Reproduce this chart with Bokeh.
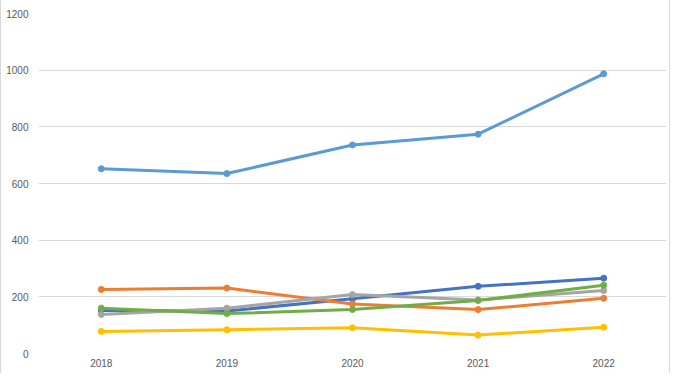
from bokeh.plotting import figure
from bokeh.models import FactorRange, Range1d
from bokeh.embed import file_html
from bokeh.resources import INLINE

years = ["2018", "2019", "2020", "2021", "2022"]
series_dark_blue = [152, 150, 193, 237, 266]
series_orange = [226, 231, 175, 155, 195]
series_gray = [138, 160, 208, 189, 222]
series_yellow = [78, 84, 91, 65, 93]
series_light_blue = [652, 635, 736, 774, 987]
series_green = [160, 141, 155, 187, 241]
y_ticks = [0, 200, 400, 600, 800, 1000, 1200]

series = [
    (series_dark_blue, "#4472C4"),
    (series_orange, "#ED7D31"),
    (series_gray, "#A5A5A5"),
    (series_yellow, "#FFC000"),
    (series_light_blue, "#5B9BD5"),
    (series_green, "#70AD47"),
]

p = figure(width=670, height=373, x_range=FactorRange(*years, range_padding=0),
           y_range=Range1d(0, 1200), output_backend="svg", toolbar_location=None,
           min_border_left=37, min_border_right=5, min_border_top=13, min_border_bottom=20)
p.outline_line_color = None
p.background_fill_color = "white"
p.border_fill_color = "white"
p.styles = {"border-left": "1px solid #d9d9d9", "border-right": "1px solid #d9d9d9",
            "box-sizing": "border-box"}

for vals, col in series:
    p.line(years, vals, line_color=col, line_width=3, line_join="round", line_cap="round")
    p.scatter(years, vals, size=6, fill_color=col, line_color=col)

p.xgrid.grid_line_color = None
p.ygrid.grid_line_color = "#d9d9d9"
p.ygrid.grid_line_width = 1
p.yaxis.ticker = y_ticks
for ax in (p.xaxis[0], p.yaxis[0]):
    ax.axis_line_color = None
    ax.major_tick_line_color = None
    ax.minor_tick_line_color = None
    ax.major_tick_in = 0
    ax.major_tick_out = 0
    ax.major_label_text_color = "#595959"
    ax.major_label_text_font = "Liberation Sans"
    ax.major_label_text_font_size = "10px"
p.yaxis.major_label_standoff = 10
p.xaxis.major_label_standoff = 5

open("out.html", "w").write(file_html(p, INLINE))
